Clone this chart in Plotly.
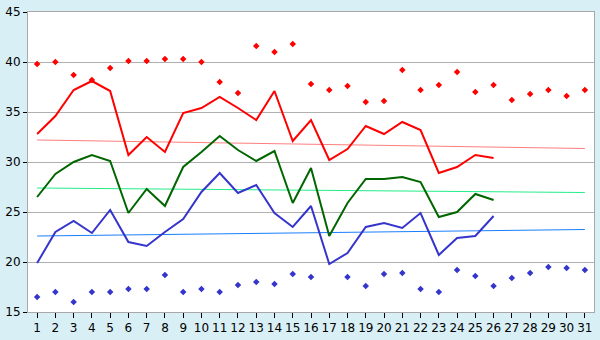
import plotly.graph_objects as go

days = list(range(1, 32))
line_days = list(range(1, 27))

red_line = [32.8, 34.6, 37.2, 38.1, 37.1, 30.7, 32.5, 31.0, 34.9, 35.4,
            36.5, 35.4, 34.2, 37.1, 32.1, 34.2, 30.2, 31.3, 33.6, 32.8,
            34.0, 33.2, 28.9, 29.5, 30.7, 30.4]
green_line = [26.5, 28.8, 30.0, 30.7, 30.1, 24.9, 27.3, 25.6, 29.5, 31.0,
              32.6, 31.2, 30.1, 31.1, 25.9, 29.4, 22.6, 25.9, 28.3, 28.3,
              28.5, 28.0, 24.5, 25.0, 26.8, 26.2]
blue_line = [19.9, 23.0, 24.1, 22.9, 25.2, 22.0, 21.6, 23.0, 24.3, 27.0,
             28.9, 26.9, 27.7, 24.9, 23.5, 25.6, 19.8, 20.9, 23.5, 23.9,
             23.4, 24.9, 20.7, 22.4, 22.6, 24.6]

red_dots = [39.8, 40.0, 38.7, 38.2, 39.4, 40.1, 40.1, 40.3, 40.3, 40.0,
            38.0, 36.9, 41.6, 41.0, 41.8, 37.8, 37.2, 37.6, 36.0, 36.1,
            39.2, 37.2, 37.7, 39.0, 37.0, 37.7, 36.2, 36.8, 37.2, 36.6, 37.2]
blue_days = [1, 2, 3, 4, 5, 6, 7, 8, 9, 10, 11, 12, 13, 14, 15, 16,
             18, 19, 20, 21, 22, 23, 24, 25, 26, 27, 28, 29, 30, 31]
blue_dots = [16.5, 17.0, 16.0, 17.0, 17.0, 17.3, 17.3, 18.7, 17.0, 17.3,
             17.0, 17.7, 18.0, 17.8, 18.8, 18.5,
             18.5, 17.6, 18.8, 18.9, 17.3, 17.0, 19.2, 18.6, 17.6, 18.4,
             18.9, 19.5, 19.4, 19.2]

trend_days = [1, 31]
red_trend = [32.2, 31.35]
green_trend = [27.4, 26.95]
blue_trend = [22.6, 23.25]

x_ticks = [str(d) for d in days]
y_ticks = [15, 20, 25, 30, 35, 40, 45]

fig = go.Figure()

fig.add_trace(go.Scatter(x=trend_days, y=red_trend, mode="lines",
                         line=dict(color="#FF7F7F", width=1)))
fig.add_trace(go.Scatter(x=trend_days, y=green_trend, mode="lines",
                         line=dict(color="#22EE88", width=1)))
fig.add_trace(go.Scatter(x=trend_days, y=blue_trend, mode="lines",
                         line=dict(color="#1A7FFF", width=1)))

fig.add_trace(go.Scatter(x=line_days, y=red_line, mode="lines",
                         line=dict(color="#FF0000", width=2)))
fig.add_trace(go.Scatter(x=line_days, y=green_line, mode="lines",
                         line=dict(color="#006600", width=2)))
fig.add_trace(go.Scatter(x=line_days, y=blue_line, mode="lines",
                         line=dict(color="#3535CC", width=2)))

fig.add_trace(go.Scatter(x=days, y=red_dots, mode="markers",
                         marker=dict(color="#FF0000", symbol="diamond", size=5,
                                     line=dict(width=0))))
fig.add_trace(go.Scatter(x=blue_days, y=blue_dots, mode="markers",
                         marker=dict(color="#3535CC", symbol="diamond", size=5,
                                     line=dict(width=0))))

fig.update_layout(
    width=600, height=340,
    margin=dict(l=20, r=5, t=5, b=20),
    paper_bgcolor="#D9EFF6",
    plot_bgcolor="#FFFFFF",
    showlegend=False,
    font=dict(family="DejaVu Sans", size=12, color="#000000"),
)
fig.update_xaxes(
    range=[0.5, 31.5], tickmode="array", tickvals=days, ticktext=x_ticks,
    showgrid=False, zeroline=False,
    showline=True, linecolor="#A8A8A8", linewidth=1, mirror=True,
    ticks="outside", ticklen=5, tickcolor="#000000", tickfont=dict(size=12),
    ticklabeloverflow="allow",
)
fig.update_yaxes(
    range=[15, 45], tickmode="array", tickvals=y_ticks,
    showgrid=True, gridcolor="#B0B0B0", gridwidth=1, zeroline=False,
    showline=True, linecolor="#A8A8A8", linewidth=1, mirror=True,
    ticks="outside", ticklen=4, tickcolor="#000000", tickfont=dict(size=12),
    ticklabeloverflow="allow",
)

fig.write_html("out.html")
